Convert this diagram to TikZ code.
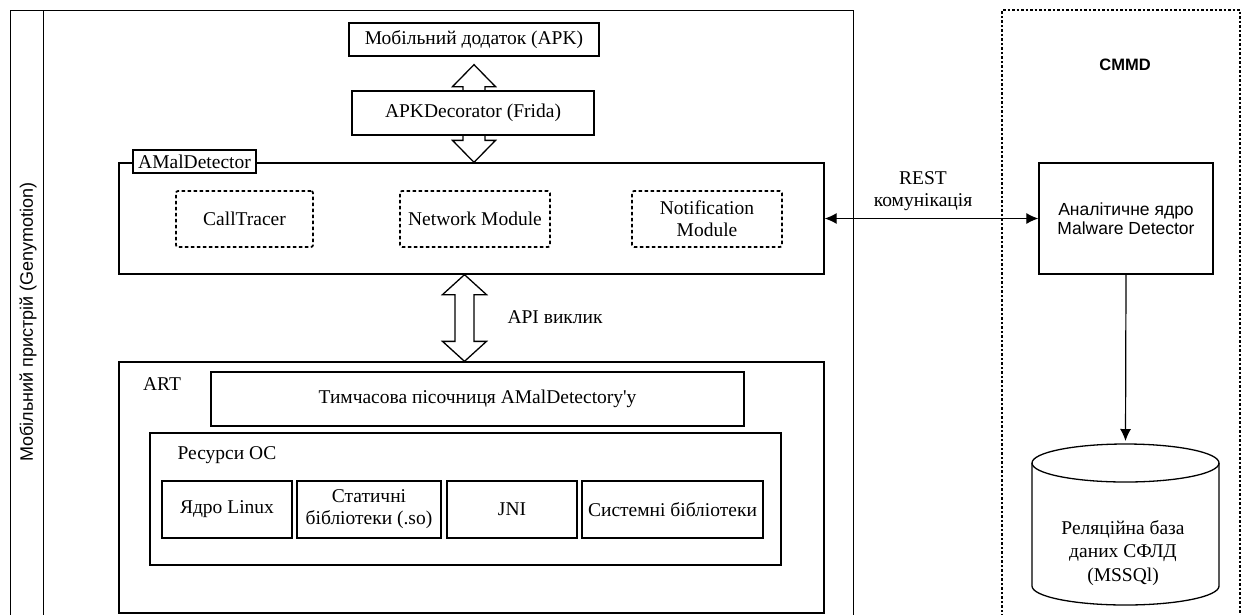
\documentclass[tikz,border=0pt]{standalone}
\usepackage{fontspec}
\setmainfont{Liberation Serif}
\setsansfont{Liberation Sans}
\usetikzlibrary{calc, arrows.meta, positioning}

\begin{document}
\begin{tikzpicture}[x=1pt, y=-1pt,
    every node/.style={font=\fontsize{19.5}{22}\selectfont},
    box/.style={draw, line width=1.3pt, inner sep=1pt, align=center},
    modbox/.style={draw, dash pattern=on 3.5pt off 2.5pt, line width=1.7pt, rounded corners=2pt,
        inner sep=1pt, align=center, minimum width=150pt, minimum height=56pt},
    hollow/.style={draw, line width=1.3pt, fill=white, line join=miter},
    link/.style={line width=1.2pt, {Latex[length=12pt,width=11pt]}-{Latex[length=12pt,width=11pt]}}]
	\useasboundingbox (0,0) rectangle (1249,614);
	% mobile device frame
	\draw [line width=1pt] (10,630) -- (10,10) -- (853,10) -- (853,630);
	\draw [line width=1pt] (43,10) -- (43,630);
	\node [rotate=90, font=\sffamily\fontsize{18}{20}\selectfont] (devlbl) at (28,322) {Мобільний пристрій (Genymotion)};
	% CMMD frame
	\draw [line width=1.3pt, dash pattern=on 2.5pt off 2pt] (1002,630) -- (1002,10) -- (1240,10) -- (1240,630);
	\node [font=\sffamily\bfseries\fontsize{16.5}{18}\selectfont] (cmmd) at (1125,65) {CMMD};

	\node [box, minimum width=250pt, minimum height=33pt] (apk) at (474,39.5) {Мобільний додаток (APK)};
	\node [box, minimum width=705pt, minimum height=111pt] (amal) at (471.5,218.5) {};
	% hollow arrow apk <-> amal
	\path [hollow] let \p1=([yshift=-8pt]apk.south), \p2=(apk.south |- amal.north) in
		(\x1,\y1) -- (\x1+21.5pt,\y1-22pt) -- (\x1+11pt,\y1-22pt) -- (\x1+11pt,\y2+22pt)
		-- (\x1+21.5pt,\y2+22pt) -- (\x1,\y2) -- (\x1-21.5pt,\y2+22pt) -- (\x1-11pt,\y2+22pt)
		-- (\x1-11pt,\y1-22pt) -- (\x1-21.5pt,\y1-22pt) -- cycle;
	\node [box, fill=white, minimum width=242pt, minimum height=44pt] (deco) at (473,113) {APKDecorator (Frida)};
	\node [box, fill=white, minimum width=123pt, minimum height=23pt] (tab) at (194.5,161.5) {AMalDetector};

	\node [modbox, minimum width=137pt] (tracer) at (244.5,219) {CallTracer};
	\node [modbox] (netmod) at (475,219) {Network Module};
	\node [modbox] (notif) at (707,219) {Notification\\Module};

	% ART
	\node [box, minimum width=705pt, minimum height=251pt] (art) at (471.5,487.5) {};
	\node (artlbl) at (162,384) {ART};
	\node [box, minimum width=533pt, minimum height=54pt] (sandbox) at (477.5,399) {Тимчасова пісочниця AMalDetectory\textquotesingle y};
	\node [box, minimum width=631pt, minimum height=132pt] (osres) at (465.5,499) {};
	\node (oslbl) at (227,455) {Ресурси ОС};
	\node [box, minimum width=130pt, minimum height=57pt] (kernel) at (227,509.5) {Ядро Linux};
	\node [box, minimum width=144pt, minimum height=57pt] (static) at (369,509.5) {Статичні\\бібліотеки (.so)};
	\node [box, minimum width=130pt, minimum height=57pt] (jni) at (512,509.5) {JNI};
	\node [box, minimum width=181pt, minimum height=57pt] (syslib) at (672.5,509.5) {Системні бібліотеки};

	% API call arrow
	\path [hollow] let \p1=([xshift=-7pt]amal.south), \p2=([xshift=-7pt]art.north) in
		(\x1,\y1) -- (\x1+22pt,\y1-20pt) -- (\x1+9.5pt,\y1-20pt) -- (\x1+9.5pt,\y2+20pt)
		-- (\x1+22pt,\y2+20pt) -- (\x1,\y2) -- (\x1-22pt,\y2+20pt) -- (\x1-9.5pt,\y2+20pt)
		-- (\x1-9.5pt,\y1-20pt) -- (\x1-22pt,\y1-20pt) -- cycle;
	\node [right] (apilbl) at (504,317) {API виклик};

	% analytic core
	\node [box, font=\sffamily\fontsize{17.5}{19}\selectfont, minimum width=174pt, minimum height=111pt] (core) at (1126,218.5) {Аналітичне ядро\\Malware Detector};
	\draw [link] (amal.east) -- (core.west);
	\node [align=center] (restlbl) at (923,191) {REST\\комунікація};

	% database
	\coordinate (dbtop) at (1125.5,441);
	\draw [line width=1.2pt, -{Latex[length=12pt,width=11pt]}] (core.south) -- (dbtop);
	\draw [line width=1.3pt] (1125.5,463) ellipse [x radius=93.5, y radius=19];
	\draw [line width=1.3pt] (1032,463) -- (1032,586) arc [start angle=180, end angle=0, x radius=93.5, y radius=19] -- (1219,463);
	\node [align=center, font=\fontsize{19.5}{23.5}\selectfont] (db) at (1123,553) {Реляційна база\\даних СФЛД\\(MSSQl)};
\end{tikzpicture}
\end{document}
